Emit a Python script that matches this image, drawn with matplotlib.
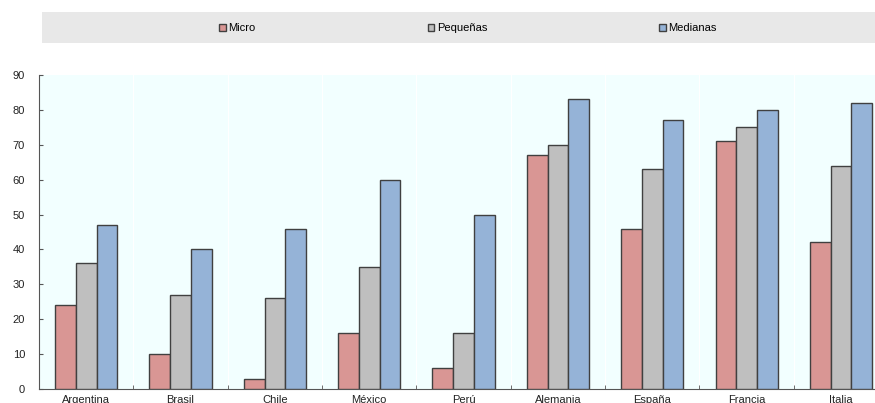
import numpy as np
import matplotlib.pyplot as plt
from matplotlib.patches import Rectangle

# datos
paises = ['Argentina', 'Brasil', 'Chile', 'México', 'Perú', 'Alemania', 'España', 'Francia', 'Italia']
micro = [24, 10, 3, 16, 6, 67, 46, 71, 42]
pequenas = [36, 27, 26, 35, 16, 70, 63, 75, 64]
medianas = [47, 40, 46, 60, 50, 83, 77, 80, 82]

series = ['Micro', 'Pequeñas', 'Medianas']
colores = ['#D99694', '#BFBFBF', '#95B3D7']

plt.rcParams['font.family'] = ['Liberation Sans Narrow', 'Liberation Sans', 'DejaVu Sans']

W, H = 875, 403
fig = plt.figure(figsize=(W / 100, H / 100), dpi=100)

# banda de la leyenda
fig.patches.append(Rectangle((42 / W, 1 - 43 / H), 1 - 42 / W, 31 / H,
                             transform=fig.transFigure, facecolor='#E8E8E8',
                             edgecolor='none', zorder=0))

ax = fig.add_axes([39 / W, 1 - 389 / H, 1 - 39 / W, 314 / H])
ax.set_facecolor('#F2FFFF')

x = np.arange(len(paises))
ancho = 0.22
for i, (vals, nombre, col) in enumerate(zip([micro, pequenas, medianas], series, colores)):
    ax.bar(x + (i - 1) * ancho, vals, ancho, color=col, edgecolor='#404040',
           linewidth=1.0, label=nombre, zorder=3)

ax.set_ylim(0, 90)
ax.set_yticks(range(0, 91, 10))
ax.set_xlim(-0.5, 8.36)
ax.set_xticks(x)
ax.set_xticklabels(paises, fontsize=8, color='#222222')
ax.set_xticks(x[:-1] + 0.5, minor=True)
ax.tick_params(axis='x', which='major', length=0, pad=4)
ax.tick_params(axis='x', which='minor', length=3, direction='in', color='#555555')
ax.tick_params(axis='y', length=3, direction='in', labelsize=8, labelcolor='#222222',
               color='#555555', pad=10)

# líneas tenues entre grupos
for b in x[:-1] + 0.5:
    ax.axvline(b, color='white', linewidth=0.8, zorder=1)

for lado in ['top', 'right']:
    ax.spines[lado].set_visible(False)
ax.spines['left'].set_color('#555555')
ax.spines['bottom'].set_color('#555555')

h, l = ax.get_legend_handles_labels()
fig.legend(h, l, ncol=3, loc='center', bbox_to_anchor=(468 / W, 1 - 28 / H),
           frameon=False, fontsize=8, handlelength=0.6, handleheight=0.6,
           handletextpad=0.2, columnspacing=15.5)

fig.savefig('out.png', dpi=100)
